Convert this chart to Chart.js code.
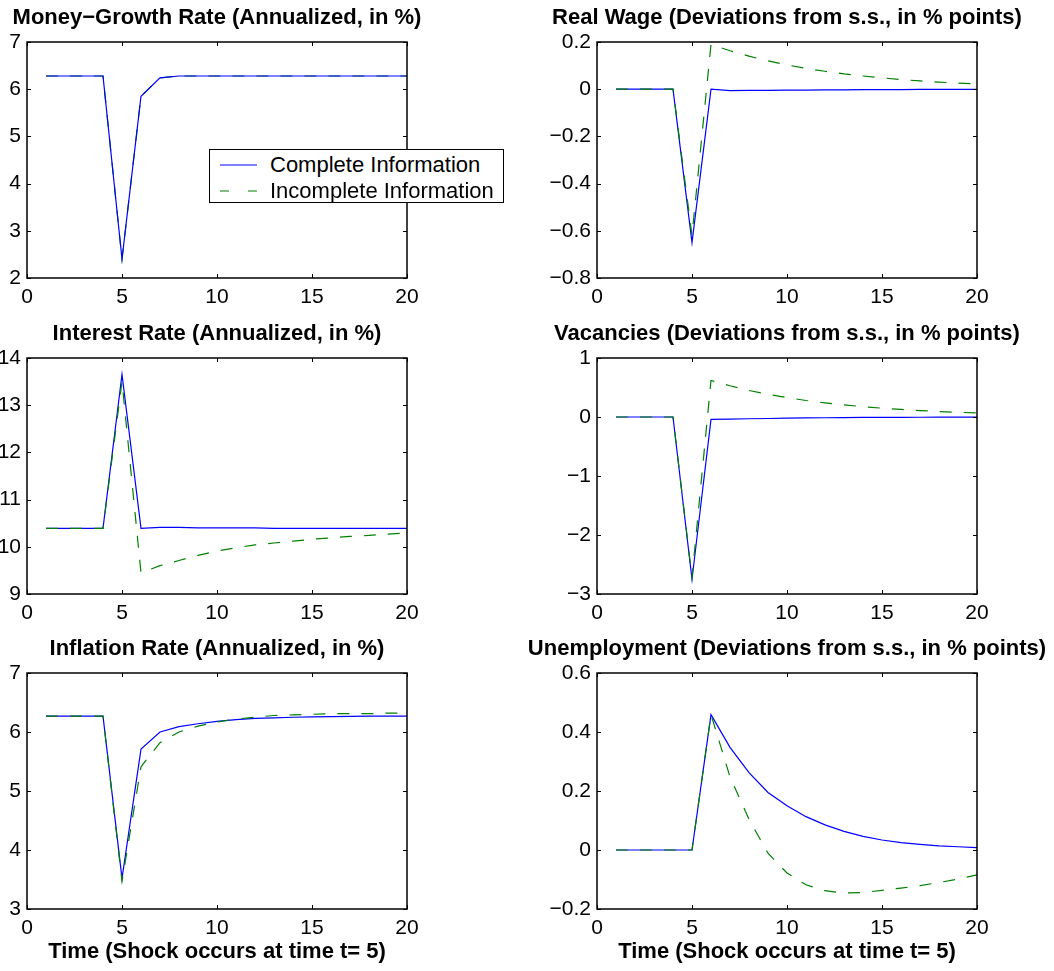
<!DOCTYPE html>
<html>
<head>
<meta charset="utf-8">
<script src="https://cdn.jsdelivr.net/npm/chart.js@4/dist/chart.umd.min.js"></script>
<style>
  body { margin: 0; background: #fff; width: 1054px; height: 971px; position: relative; overflow: hidden; }
  canvas { position: absolute; }
  #legend { position: absolute; left: 209px; top: 149px; width: 295px; height: 54px; box-sizing: border-box;
            border: 1.5px solid #000; background: #fff; font: 22px "Liberation Sans", Arial, sans-serif; }
  .row { position: absolute; left: 0; height: 26px; line-height: 26px; white-space: nowrap; }
  .row svg { position: absolute; left: 10px; top: 11px; }
  .row span { position: absolute; left: 60px; top: 0; }
</style>
</head>
<body>
<canvas id="c0"></canvas><canvas id="c1"></canvas>
<canvas id="c2"></canvas><canvas id="c3"></canvas>
<canvas id="c4"></canvas><canvas id="c5"></canvas>
<div id="legend"></div>
<script>
// periodos da simulacao
const periods = [1, 2, 3, 4, 5, 6, 7, 8, 9, 10, 11, 12, 13, 14, 15, 16, 17, 18, 19, 20];
const xTicks = [0, 5, 10, 15, 20];

const seriesNames = ["Complete Information", "Incomplete Information"];
const seriesColors = ["#0000ff", "#008000"];

const titles = [
  "Money\u2212Growth Rate (Annualized, in %)",
  "Real Wage (Deviations from s.s., in % points)",
  "Interest Rate (Annualized, in %)",
  "Vacancies (Deviations from s.s., in % points)",
  "Inflation Rate (Annualized, in %)",
  "Unemployment (Deviations from s.s., in % points)"
];
const xTitle = "Time (Shock occurs at time t= 5)";

// valores
const moneyComplete   = [6.28, 6.28, 6.28, 6.28, 2.40, 5.85, 6.24, 6.28, 6.28, 6.28, 6.28, 6.28, 6.28, 6.28, 6.28, 6.28, 6.28, 6.28, 6.28, 6.28];
const moneyIncomplete = [6.28, 6.28, 6.28, 6.28, 2.40, 5.85, 6.24, 6.28, 6.28, 6.28, 6.28, 6.28, 6.28, 6.28, 6.28, 6.28, 6.28, 6.28, 6.28, 6.28];

const wageComplete   = [0, 0, 0, 0, -0.65, 0.0, -0.006, -0.005, -0.005, -0.004, -0.004, -0.003, -0.003, -0.002, -0.002, -0.002, -0.001, -0.001, -0.001, -0.001];
const wageIncomplete = [0, 0, 0, 0, -0.62, 0.19, 0.163, 0.14, 0.12, 0.103, 0.088, 0.076, 0.065, 0.056, 0.048, 0.041, 0.035, 0.030, 0.026, 0.022];

const interestComplete   = [10.39, 10.39, 10.39, 10.39, 13.65, 10.39, 10.41, 10.41, 10.40, 10.40, 10.40, 10.40, 10.39, 10.39, 10.39, 10.39, 10.39, 10.39, 10.39, 10.39];
const interestIncomplete = [10.39, 10.39, 10.39, 10.39, 13.50, 9.45, 9.60, 9.71, 9.82, 9.91, 9.98, 10.04, 10.08, 10.12, 10.16, 10.19, 10.22, 10.24, 10.27, 10.29];

const vacComplete   = [0, 0, 0, 0, -2.75, -0.04, -0.035, -0.03, -0.025, -0.02, -0.016, -0.013, -0.01, -0.008, -0.006, -0.005, -0.004, -0.003, -0.002, -0.002];
const vacIncomplete = [0, 0, 0, 0, -2.72, 0.62, 0.53, 0.45, 0.385, 0.33, 0.28, 0.24, 0.205, 0.175, 0.15, 0.128, 0.109, 0.093, 0.08, 0.068];

const inflComplete   = [6.27, 6.27, 6.27, 6.27, 3.52, 5.71, 6.00, 6.09, 6.14, 6.18, 6.21, 6.23, 6.24, 6.25, 6.255, 6.26, 6.265, 6.27, 6.27, 6.27];
const inflIncomplete = [6.27, 6.27, 6.27, 6.27, 3.47, 5.41, 5.82, 6.00, 6.10, 6.17, 6.22, 6.25, 6.28, 6.29, 6.30, 6.31, 6.31, 6.31, 6.32, 6.32];

const unempComplete   = [0, 0, 0, 0, 0, 0.459, 0.348, 0.262, 0.195, 0.15, 0.113, 0.085, 0.063, 0.046, 0.034, 0.025, 0.019, 0.014, 0.011, 0.008];
const unempIncomplete = [0, 0, 0, 0, 0, 0.459, 0.248, 0.104, -0.011, -0.078, -0.118, -0.138, -0.146, -0.144, -0.137, -0.129, -0.121, -0.11, -0.099, -0.084];

const yTicks = [
  [2, 3, 4, 5, 6, 7],
  [-0.8, -0.6, -0.4, -0.2, 0, 0.2],
  [9, 10, 11, 12, 13, 14],
  [-3, -2, -1, 0, 1],
  [3, 4, 5, 6, 7],
  [-0.2, 0, 0.2, 0.4, 0.6]
];

const panels = [
  [moneyComplete, moneyIncomplete],
  [wageComplete, wageIncomplete],
  [interestComplete, interestIncomplete],
  [vacComplete, vacIncomplete],
  [inflComplete, inflIncomplete],
  [unempComplete, unempIncomplete]
];

// geometria das areas de plotagem
const colLeft = [27, 597];
const rowTop = [42, 358, 673];
const plotW = 380, plotH = 236;
const fontFamily = '"Liberation Sans", Arial, Helvetica, sans-serif';

function fmt(v) {
  const r = Math.round(v * 10) / 10;
  return (r < 0 ? "\u2212" : "") + Math.abs(r);
}

// caixa e marcas internas estilo MATLAB
const matlabBox = {
  id: "matlabBox",
  afterDatasetsDraw(chart) {
    const { ctx, chartArea: a, scales } = chart;
    const tl = 4;
    ctx.save();
    ctx.strokeStyle = "#000";
    ctx.lineWidth = 1;
    ctx.beginPath();
    scales.x.ticks.forEach(t => {
      const px = Math.round(scales.x.getPixelForValue(t.value)) + 0.5;
      ctx.moveTo(px, a.bottom); ctx.lineTo(px, a.bottom - tl);
      ctx.moveTo(px, a.top); ctx.lineTo(px, a.top + tl);
    });
    scales.y.ticks.forEach(t => {
      const py = Math.round(scales.y.getPixelForValue(t.value)) + 0.5;
      ctx.moveTo(a.left, py); ctx.lineTo(a.left + tl, py);
      ctx.moveTo(a.right, py); ctx.lineTo(a.right - tl, py);
    });
    ctx.stroke();
    ctx.lineWidth = 1.5;
    ctx.strokeRect(a.left, a.top, a.width, a.height);
    ctx.restore();
  }
};

// titulo centrado sobre a area de plotagem (nao sobre o canvas inteiro)
const panelTitle = {
  id: "panelTitle",
  afterDraw(chart, args, opts) {
    const { ctx, chartArea: a } = chart;
    ctx.save();
    ctx.font = "bold 22px " + fontFamily;
    ctx.fillStyle = "#000";
    ctx.textAlign = "center";
    ctx.textBaseline = "middle";
    ctx.fillText(opts.text, (a.left + a.right) / 2, a.top - 24.5);
    ctx.restore();
  }
};

panels.forEach((series, i) => {
  const col = i % 2, row = Math.floor(i / 2);
  const half = col === 0 ? 217 : 262;
  const center = colLeft[col] + plotW / 2;
  const canvasLeft = center - half;
  const yWidth = colLeft[col] - canvasLeft;
  const rightPad = half * 2 - yWidth - plotW;
  const bottomH = row === 2 ? 62 : 40;

  const canvas = document.getElementById("c" + i);
  canvas.width = half * 2;
  canvas.height = 42 + plotH + bottomH;
  canvas.style.left = canvasLeft + "px";
  canvas.style.top = (rowTop[row] - 42) + "px";

  const ticksY = yTicks[i];

  new Chart(canvas.getContext("2d"), {
    type: "line",
    data: {
      datasets: series.map((vals, k) => ({
        label: seriesNames[k],
        data: periods.map((t, j) => ({ x: t, y: vals[j] })),
        borderColor: seriesColors[k],
        borderWidth: 1.2,
        borderDash: k === 1 ? [12, 12] : [],
        pointRadius: 0,
        tension: 0,
        fill: false,
        // money growth: tracejado fica por baixo
        order: i === 0 ? k : 1 - k
      }))
    },
    options: {
      responsive: false,
      animation: false,
      devicePixelRatio: 1,
      layout: { padding: { left: 0, right: rightPad, top: 42, bottom: 0 } },
      plugins: {
        legend: { display: false },
        tooltip: { enabled: false },
        title: { display: false },
        panelTitle: { text: titles[i] }
      },
      scales: {
        x: {
          type: "linear",
          min: 0, max: 20,
          grid: { display: false, drawTicks: false },
          border: { display: false },
          afterBuildTicks: s => { s.ticks = xTicks.map(v => ({ value: v })); },
          afterFit: s => { s.height = bottomH; },
          ticks: {
            color: "#000", padding: 7, maxRotation: 0,
            font: { family: fontFamily, size: 21 },
            callback: v => fmt(v)
          },
          title: {
            display: row === 2,
            text: xTitle,
            color: "#000",
            font: { family: fontFamily, size: 22, weight: "bold" },
            padding: { top: 0, bottom: 6 }
          }
        },
        y: {
          min: ticksY[0], max: ticksY[ticksY.length - 1],
          grid: { display: false, drawTicks: false },
          border: { display: false },
          afterBuildTicks: s => { s.ticks = ticksY.map(v => ({ value: v })); },
          afterFit: s => { s.width = yWidth; },
          ticks: {
            color: "#000", padding: 6,
            font: { family: fontFamily, size: 21 },
            callback: v => fmt(v)
          }
        }
      }
    },
    plugins: [matlabBox, panelTitle]
  });
});

// legenda em HTML, montada a partir das series
const legend = document.getElementById("legend");
seriesNames.forEach((name, k) => {
  const div = document.createElement("div");
  div.className = "row";
  div.style.top = (2 + k * 26) + "px";
  const dash = k === 1 ? ' stroke-dasharray="9 19"' : "";
  div.innerHTML = '<svg width="37" height="4"><line x1="0" y1="2" x2="37" y2="2" stroke="' +
    seriesColors[k] + '" stroke-width="1.2"' + dash + '/></svg><span>' + name + '</span>';
  legend.appendChild(div);
});
</script>
</body>
</html>
